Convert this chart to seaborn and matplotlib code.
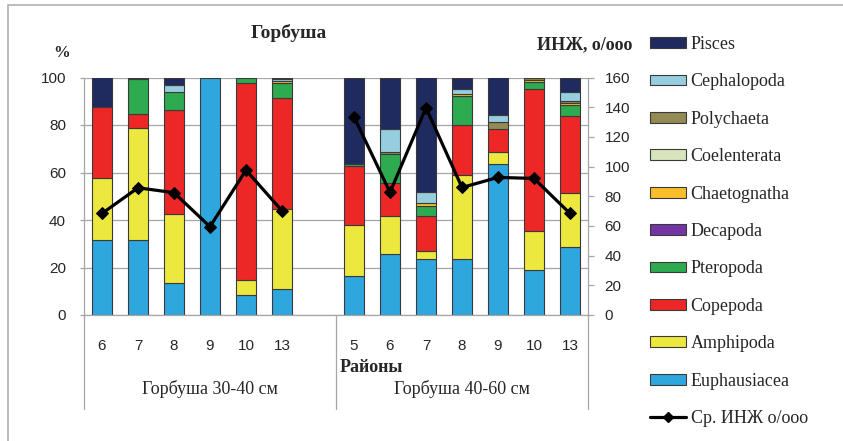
import matplotlib
matplotlib.use("Agg")
import matplotlib.pyplot as plt
import numpy as np
import pandas as pd
import seaborn as sns
from matplotlib.patches import Patch, Rectangle
from matplotlib.lines import Line2D

# ---------------- data ----------------
regions = ["6", "7", "8", "9", "10", "13", "5", "6", "7", "8", "9", "10", "13"]
groups = ["Горбуша 30-40 см"] * 6 + ["Горбуша 40-60 см"] * 7
group_names = ["Горбуша 30-40 см", "Горбуша 40-60 см"]
taxa = ["Pisces", "Cephalopoda", "Polychaeta", "Coelenterata", "Chaetognatha",
        "Decapoda", "Pteropoda", "Copepoda", "Amphipoda", "Euphausiacea"]

euphausiacea = [31.4, 31.4, 13.3, 100, 8.4, 10.9, 16.5, 25.7, 23.6, 23.6, 63.5, 18.9, 28.5]
amphipoda    = [26.1, 47.4, 29.1, 0, 6.3, 33.7, 21.6, 16.1, 3.3, 35.3, 5.2, 16.6, 22.7]
copepoda     = [29.9, 5.8, 44.1, 0, 83.1, 46.6, 24.6, 13.9, 14.9, 21.3, 9.6, 59.6, 32.5]
pteropoda    = [0, 14.9, 7.5, 0, 2.2, 6.3, 0.8, 12.3, 4.3, 11.9, 0, 3.1, 4.7]
decapoda     = [0] * 13
chaetognatha = [0, 0, 0, 0, 0, 1.0, 0, 0, 0.9, 1.0, 0, 0.6, 0.9]
coelenterata = [0] * 13
polychaeta   = [0, 0, 0, 0, 0, 0, 0, 0.7, 0, 0, 3.0, 0.8, 1.0]
cephalopoda  = [0, 0, 2.8, 0, 0, 1.0, 0, 9.6, 4.6, 1.9, 2.9, 0, 3.7]
pisces       = [12.6, 0.5, 3.2, 0, 0, 0.5, 36.5, 21.7, 48.4, 5.0, 15.8, 0.4, 6.0]
ingz         = [68.4, 85.7, 82.4, 59.5, 97.6, 70.2, 133.5, 82.6, 139.6, 85.9, 92.7, 92.0, 68.4]

colors = {
    "Pisces": "#1F2B5E",
    "Cephalopoda": "#96CEDF",
    "Polychaeta": "#948A54",
    "Coelenterata": "#D8E4BC",
    "Chaetognatha": "#F9BE2A",
    "Decapoda": "#7335A3",
    "Pteropoda": "#2EAA50",
    "Copepoda": "#EC2726",
    "Amphipoda": "#EDE83E",
    "Euphausiacea": "#2EA6DE",
}
series = {
    "Pisces": pisces, "Cephalopoda": cephalopoda, "Polychaeta": polychaeta,
    "Coelenterata": coelenterata, "Chaetognatha": chaetognatha, "Decapoda": decapoda,
    "Pteropoda": pteropoda, "Copepoda": copepoda, "Amphipoda": amphipoda,
    "Euphausiacea": euphausiacea,
}

# slot positions: left group 0..5, gap at 6, right group 7..13
pos = list(range(0, 6)) + list(range(7, 14))

rows = []
for t in taxa:
    for p, v in zip(pos, series[t]):
        rows.append({"pos": p, "taxon": t, "value": v})
df = pd.DataFrame(rows)
line_df = pd.DataFrame({"pos": pos, "ingz": ingz, "group": groups})

# ---------------- style ----------------
sns.set_style("white")
plt.rcParams["font.family"] = ["Liberation Serif", "DejaVu Serif"]
GRAY = "#a6a6a6"
EDGE = "#3a3a3a"
TXT = "#262626"
W, H = 843, 441

fig = plt.figure(figsize=(W / 100, H / 100), dpi=100)
ax = fig.add_axes([84 / W, 1 - 315 / H, 504 / W, 237.5 / H])

sns.histplot(data=df, x="pos", weights="value", hue="taxon", hue_order=taxa,
             multiple="stack", discrete=True, shrink=0.57, palette=colors,
             edgecolor=EDGE, linewidth=0.8, alpha=1, legend=False, ax=ax)
for p in ax.patches:
    if p.get_height() == 0:
        p.set_visible(False)

ax.set_xlim(-0.5, 13.5)
ax.set_ylim(0, 100)
ax.set_yticks(range(0, 101, 20))
ax.set_xticks(pos)
ax.set_xticklabels(regions)
ax.set_xlabel("")
ax.set_ylabel("")
ax.set_axisbelow(True)
ax.yaxis.grid(True, color=GRAY, lw=0.9)
ax.xaxis.grid(False)
for s in ["top", "right"]:
    ax.spines[s].set_visible(False)
for s in ["left", "bottom"]:
    ax.spines[s].set_color(GRAY)
    ax.spines[s].set_linewidth(0.9)
ax.tick_params(axis="y", length=3, width=0.9, color=GRAY, pad=10, labelsize=11,
               labelcolor=TXT)
ax.tick_params(axis="x", length=0, pad=17, labelsize=11, labelcolor=TXT)
for lab in ax.get_xticklabels() + ax.get_yticklabels():
    lab.set_family(["Liberation Sans", "DejaVu Sans"])

# secondary axis with the line
ax2 = ax.twinx()
sns.lineplot(data=line_df, x="pos", y="ingz", units="group", estimator=None,
             color="black", lw=2.3, marker="D", markersize=6.5,
             markeredgecolor="black", ax=ax2, legend=False)
ax2.set_ylim(0, 160)
ax2.set_yticks(range(0, 161, 20))
ax2.set_xlim(-0.5, 13.5)
ax2.set_ylabel("")
ax2.set_xlabel("")
for s in ["top", "left", "bottom"]:
    ax2.spines[s].set_visible(False)
ax2.spines["right"].set_color(GRAY)
ax2.spines["right"].set_linewidth(0.9)
ax2.tick_params(axis="y", length=4, width=0.9, color=GRAY, pad=8, labelsize=11,
                labelcolor=TXT)
for lab in ax2.get_yticklabels():
    lab.set_family(["Liberation Sans", "DejaVu Sans"])

# category separators below the axis
tr = ax.get_xaxis_transform()
for xv in [-0.5, 6.5, 13.5]:
    ax.plot([xv, xv], [0, -94 / 237.5], transform=tr, color=GRAY, lw=0.9,
            clip_on=False)
ax.text(3.0, -74 / 237.5, group_names[0], transform=tr, ha="center", va="center",
        fontsize=13, color=TXT)
ax.text(10.0, -74 / 237.5, group_names[1], transform=tr, ha="center", va="center",
        fontsize=13, color=TXT)

# titles / labels
fig.text(289 / W, 1 - 33 / H, "Горбуша", ha="center", va="center",
         fontsize=14, fontweight="bold", color=TXT)
fig.text(62 / W, 1 - 53 / H, "%", ha="center", va="center",
         fontsize=12, fontweight="bold", color=TXT)
fig.text(632 / W, 1 - 45 / H, "ИНЖ, о/ооо", ha="right", va="center",
         fontsize=13, fontweight="bold", color=TXT)
fig.text(340 / W, 1 - 368 / H, "Районы", ha="left", va="center",
         fontsize=13, fontweight="bold", color=TXT)

# legend
handles = [Patch(facecolor=colors[t], edgecolor=EDGE, lw=0.8, label=t) for t in taxa]
handles.append(Line2D([], [], color="black", lw=2.3, marker="D", markersize=5.5,
                      label="Ср. ИНЖ о/ооо"))
fig.legend(handles=handles, loc="upper left",
           bbox_to_anchor=(650 / W, 1 - 36 / H), borderaxespad=0, borderpad=0,
           handlelength=2.0, handleheight=0.55, handletextpad=0.25,
           labelspacing=1.13, frameon=False, prop={"size": 13},
           labelcolor=TXT)

# outer border
fig.patches.append(Rectangle((8 / W, -0.1), 1.2, 1.1 - 5 / H, transform=fig.transFigure,
                             fill=False, edgecolor="#b0b0b0", lw=1.2))

fig.savefig("out.png", dpi=100)
